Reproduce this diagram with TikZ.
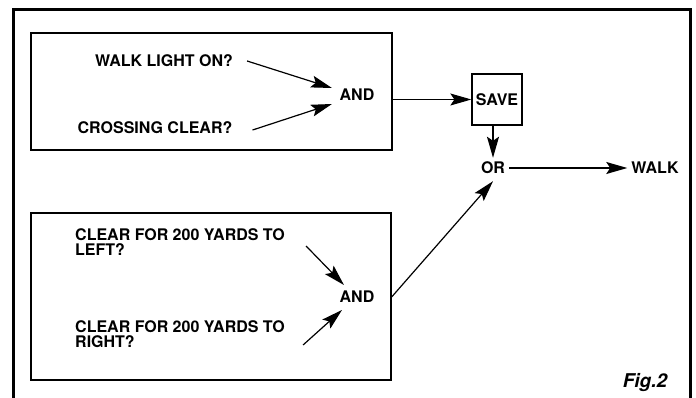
\documentclass[tikz,border=0pt]{standalone}
\usepackage{fontspec}
\setmainfont{TeX Gyre Heros}
\usetikzlibrary{arrows.meta}

\begin{document}
\begin{tikzpicture}[
    x=1pt, y=-1pt,
    lbl/.style={
        font=\bfseries\fontsize{16}{15}\selectfont,
        inner sep=2pt,
        align=left
    },
    frame/.style={
        draw=black,
        line width=1.3pt
    },
    arr/.style={
        -{Stealth[length=21pt,width=12pt,inset=4pt]},
        line width=1.2pt
    }
]
    \useasboundingbox (0,0) rectangle (696,398);

    % outer border (open at bottom)
    \draw[line width=3pt] (13,398) -- (13,10) -- (690,10) -- (690,398);

    % input groups
    \node[frame, minimum width=361pt, minimum height=117pt] (upbox) at (211.5,91.5) {};
    \node[frame, minimum width=360pt, minimum height=167pt] (lowbox) at (211,296.5) {};

    % condition texts
    \node[lbl] (walklight) at (164,61) {WALK LIGHT ON?};
    \node[lbl] (crossing) at (155,128) {CROSSING CLEAR?};
    \node[lbl, anchor=west] (leftclear) at (73,242.5) {CLEAR FOR 200 YARDS TO\\LEFT?};
    \node[lbl, anchor=west] (rightclear) at (73,334.5) {CLEAR FOR 200 YARDS TO\\RIGHT?};

    % gates
    \node[lbl] (andup) at (357,95) {AND};
    \node[lbl] (andlow) at (357,297) {AND};
    \node[frame, lbl, minimum width=50pt, minimum height=51pt, align=center] (save) at (497,99.5) {SAVE};
    \node[lbl, inner sep=4pt] (orgate) at (493,168) {OR};
    \node[lbl, inner sep=4pt] (walk) at (655,168) {WALK};

    % connectors
    \draw[arr] ([xshift=12pt]walklight.east) -- ([xshift=-5.5pt, yshift=7pt]andup.west);
    \draw[arr] ([xshift=18pt, yshift=-2pt]crossing.east) -- ([xshift=-5.5pt, yshift=-9pt]andup.west);
    \draw[arr] ([xshift=19pt, yshift=-3.5pt]leftclear.east) -- ([xshift=6.5pt, yshift=12pt]andlow.west);
    \draw[arr] ([xshift=16pt, yshift=-10.5pt]rightclear.east) -- ([xshift=4.5pt, yshift=-13pt]andlow.west);
    \draw[arr] (upbox.east |- save.west) -- (save.west);
    \draw[arr] (save.south -| orgate) -- (orgate.north);
    \draw[arr] (orgate.east) -- (walk.west);
    \draw[arr] (lowbox.east |- andlow) -- ([yshift=-3pt]orgate.south);

    % figure label
    \node[font=\bfseries\itshape\fontsize{19}{19}\selectfont] (figlabel) at (645,383) {Fig.2};

\end{tikzpicture}
\end{document}
